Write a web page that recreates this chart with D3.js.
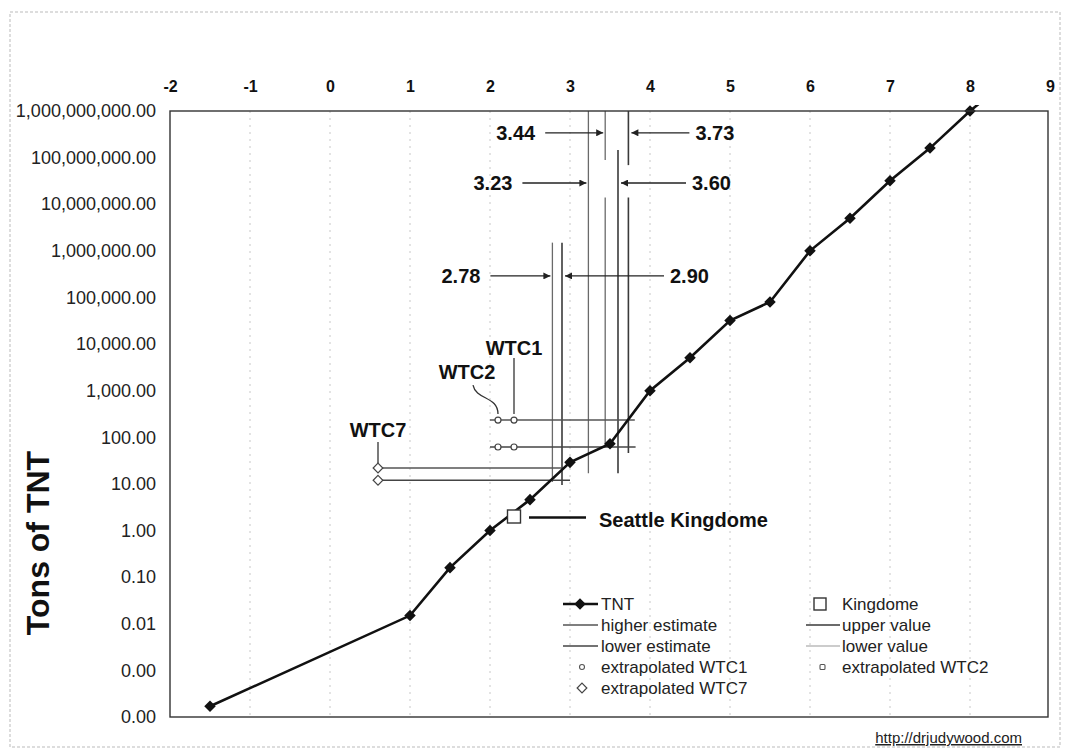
<!DOCTYPE html>
<html><head><meta charset="utf-8">
<script src="https://cdn.jsdelivr.net/npm/d3@7"></script>
<style>body{margin:0;background:#fff;} text{font-family:Arial,"Liberation Sans",sans-serif;}</style>
</head><body><svg id="c" width="1065" height="750"></svg>
<script>
// ---------- data ----------
const magnitudes = [-1.5, 1.0, 1.5, 2.0, 2.5, 3.0, 3.5, 4.0, 4.5, 5.0, 5.5, 6.0, 6.5, 7.0, 7.5, 8.0, 8.5];
const tntTons    = [0.00017, 0.015, 0.16, 1, 4.6, 29, 73, 1000, 5100, 32000, 80000, 1e6, 5e6, 32e6, 160e6, 1e9, 5e9];
const kingdomeMag = [2.3];
const kingdomeTons = [2.0];
const wtc1Mag = [2.3, 2.3];
const wtc1Tons = [234, 62];
const wtc2Mag = [2.1, 2.1];
const wtc2Tons = [234, 62];
const wtc7Mag = [0.6, 0.6];
const wtc7Tons = [22, 12];
const xTicks = [-2, -1, 0, 1, 2, 3, 4, 5, 6, 7, 8, 9];
const yTicks = [1e9, 1e8, 1e7, 1e6, 1e5, 1e4, 1e3, 100, 10, 1, 0.1, 0.01, 0.001, 0.0001];
// horizontal estimate lines: tons level, magnitude range
const higherEstimateTons = [234, 22];
const higherEstimateFrom = [2.0, 0.56];
const higherEstimateTo   = [3.81, 2.92];
const lowerEstimateTons = [62, 12];
const lowerEstimateFrom = [2.0, 0.56];
const lowerEstimateTo   = [3.82, 3.0];
// vertical value lines: magnitude, segments [topTons, bottomTons]
const upperValueMag = [2.90, 3.60, 3.73];
const upperValueSegs = [[[1.5e6, 9.5]], [[1.45e8, 17]], [[1e9, 6.9e7], [1.4e7, 46]]];
const lowerValueMag = [2.78, 3.23, 3.44];
const lowerValueSegs = [[[1.5e6, 11]], [[1e9, 17]], [[1e9, 8.9e7], [1.4e7, 62]]];
// arrow annotations
const annLabels = ["3.44", "3.73", "3.23", "3.60", "2.78", "2.90"];
const annMag    = [3.44, 3.73, 3.23, 3.60, 2.78, 2.90];
const annTons   = [3.4e8, 3.4e8, 2.85e7, 2.85e7, 2.9e5, 2.9e5];
const annSide   = ["left", "right", "left", "right", "left", "right"];
const annLen    = [58, 58, 64, 65, 60, 99];

// ---------- layout ----------
const svg = d3.select("#c");
const x = d3.scaleLinear().domain([-2, 9]).range([170, 1050]);
const y = d3.scaleLog().domain([0.0001, 1e9]).range([717, 111]);

// page border
svg.append("rect").attr("x", 10).attr("y", 12).attr("width", 1050).attr("height", 735)
  .attr("fill", "none").attr("stroke", "#bbb").attr("stroke-width", 1).attr("stroke-dasharray", "3,2");

// vertical dotted gridlines
svg.append("g").selectAll("line").data(xTicks.slice(1, -1)).join("line")
  .attr("x1", d => x(d)).attr("x2", d => x(d)).attr("y1", y(1e9)).attr("y2", y(0.0001))
  .attr("stroke", "#c8c8c8").attr("stroke-width", 1).attr("stroke-dasharray", "2,5");

// top axis
const gx = svg.append("g").attr("transform", `translate(0,${y(1e9) - 19})`)
  .call(d3.axisTop(x).tickValues(xTicks).tickFormat(d3.format("d")).tickSize(0).tickPadding(0));
gx.select(".domain").remove();
gx.selectAll("text").attr("font-size", 16).attr("font-weight", "bold").attr("fill", "#111")
  .attr("font-family", "Arial, 'Liberation Sans', sans-serif").text(d => d < 0 ? "-" + Math.abs(d) : d);

// left axis
const gy = svg.append("g").attr("transform", `translate(${x(-2)},0)`)
  .call(d3.axisLeft(y).tickValues(yTicks).tickFormat(d3.format(",.2f")).tickSize(0).tickPadding(14));
gy.select(".domain").remove();
gy.selectAll("text").attr("font-size", 18).attr("fill", "#222")
  .attr("font-family", "Arial, 'Liberation Sans', sans-serif");

// y title
svg.append("text").attr("transform", `translate(49,543) rotate(-90)`).attr("text-anchor", "middle")
  .attr("font-size", 32).attr("font-weight", "bold").attr("fill", "#111").text("Tons of TNT");

// clip + arrow marker
const defs = svg.append("defs");
defs.append("clipPath").attr("id", "clip").append("rect")
  .attr("x", x(-2)).attr("y", y(1e9) - 6).attr("width", x(9) - x(-2)).attr("height", y(0.0001) - y(1e9) + 6);
defs.append("marker").attr("id", "ah").attr("viewBox", "0 0 10 10").attr("refX", 10).attr("refY", 5)
  .attr("markerWidth", 9).attr("markerHeight", 7).attr("markerUnits", "userSpaceOnUse").attr("orient", "auto")
  .append("path").attr("d", "M0,0 L10,5 L0,10 z").attr("fill", "#222");

// vertical value lines
function vlines(mags, segs, color, width) {
  const items = [];
  mags.forEach((m, i) => segs[i].forEach(s => items.push({ m, t: s[0], b: s[1] })));
  svg.append("g").selectAll("line").data(items).join("line")
    .attr("x1", d => x(d.m)).attr("x2", d => x(d.m)).attr("y1", d => y(d.t)).attr("y2", d => y(d.b))
    .attr("stroke", color).attr("stroke-width", width);
}
vlines(lowerValueMag, lowerValueSegs, "#6a6a6a", 1.3);
vlines(upperValueMag, upperValueSegs, "#3a3a3a", 1.6);

// horizontal estimate lines
function hlines(tons, from, to, color, width) {
  svg.append("g").selectAll("line").data(tons.map((t, i) => ({ t, f: from[i], e: to[i] }))).join("line")
    .attr("x1", d => x(d.f)).attr("x2", d => x(d.e)).attr("y1", d => y(d.t)).attr("y2", d => y(d.t))
    .attr("stroke", color).attr("stroke-width", width);
}
hlines(higherEstimateTons, higherEstimateFrom, higherEstimateTo, "#555", 1.5);
hlines(lowerEstimateTons, lowerEstimateFrom, lowerEstimateTo, "#444", 1.5);

// TNT line
const tnt = magnitudes.map((m, i) => ({ m, t: tntTons[i] }));
const plotG = svg.append("g").attr("clip-path", "url(#clip)");
plotG.append("path").datum(tnt).attr("fill", "none").attr("stroke", "#111").attr("stroke-width", 2.6)
  .attr("d", d3.line().x(d => x(d.m)).y(d => y(d.t)));
const diamond = d3.symbol().type(d3.symbolDiamond2).size(85);
svg.append("g").selectAll("path").data(tnt.filter(d => d.t <= 1e9)).join("path")
  .attr("transform", d => `translate(${x(d.m)},${y(d.t)})`).attr("d", diamond).attr("fill", "#111");

// extrapolated markers
function circles(ms, ts) {
  svg.append("g").selectAll("circle").data(ms.map((m, i) => ({ m, t: ts[i] }))).join("circle")
    .attr("cx", d => x(d.m)).attr("cy", d => y(d.t)).attr("r", 3).attr("fill", "#fff")
    .attr("stroke", "#444").attr("stroke-width", 1.2);
}
circles(wtc1Mag, wtc1Tons);
circles(wtc2Mag, wtc2Tons);
const smallDiamond = d3.symbol().type(d3.symbolDiamond2).size(60);
svg.append("g").selectAll("path").data(wtc7Mag.map((m, i) => ({ m, t: wtc7Tons[i] }))).join("path")
  .attr("transform", d => `translate(${x(d.m)},${y(d.t)})`).attr("d", smallDiamond)
  .attr("fill", "#fff").attr("stroke", "#444").attr("stroke-width", 1.2);

// Kingdome
const kx = x(kingdomeMag[0]), ky = y(kingdomeTons[0]);
svg.append("rect").attr("x", kx - 6.5).attr("y", ky - 6.5).attr("width", 13).attr("height", 13)
  .attr("fill", "#fff").attr("stroke", "#333").attr("stroke-width", 1.4);
svg.append("line").attr("x1", kx + 15).attr("x2", kx + 72).attr("y1", ky + 1).attr("y2", ky + 1)
  .attr("stroke", "#111").attr("stroke-width", 2.5);
svg.append("text").attr("x", kx + 85).attr("y", ky + 10).attr("font-size", 20).attr("font-weight", "bold")
  .attr("fill", "#111").text("Seattle Kingdome");

// WTC callouts
const w1x = x(wtc1Mag[0]), w1y = y(wtc1Tons[0]);
svg.append("line").attr("x1", w1x).attr("x2", w1x).attr("y1", w1y - 62).attr("y2", w1y - 6)
  .attr("stroke", "#333").attr("stroke-width", 1.3);
svg.append("text").attr("x", w1x).attr("y", w1y - 65).attr("text-anchor", "middle").attr("font-size", 20)
  .attr("font-weight", "bold").attr("fill", "#111").text("WTC1");
const w2x = x(wtc2Mag[0]), w2y = y(wtc2Tons[0]);
svg.append("path").attr("d", `M${w2x - 25},${w2y - 35} C${w2x - 22},${w2y - 20} ${w2x},${w2y - 24} ${w2x},${w2y - 6}`)
  .attr("fill", "none").attr("stroke", "#333").attr("stroke-width", 1.3);
svg.append("text").attr("x", w2x - 31).attr("y", w2y - 41).attr("text-anchor", "middle").attr("font-size", 20)
  .attr("font-weight", "bold").attr("fill", "#111").text("WTC2");
const w7x = x(wtc7Mag[0]), w7y = y(wtc7Tons[0]);
svg.append("line").attr("x1", w7x).attr("x2", w7x).attr("y1", w7y - 26).attr("y2", w7y - 5)
  .attr("stroke", "#333").attr("stroke-width", 1.3);
svg.append("text").attr("x", w7x).attr("y", w7y - 31).attr("text-anchor", "middle").attr("font-size", 20)
  .attr("font-weight", "bold").attr("fill", "#111").text("WTC7");

// arrow annotations
annLabels.forEach((lab, i) => {
  const lx = x(annMag[i]), ly = y(annTons[i]);
  const left = annSide[i] === "left";
  const head = left ? lx - 2 : lx + 3;
  const tail = left ? head - annLen[i] : head + annLen[i];
  svg.append("line").attr("x1", tail).attr("x2", head).attr("y1", ly).attr("y2", ly)
    .attr("stroke", "#222").attr("stroke-width", 1.4).attr("marker-end", "url(#ah)");
  svg.append("text").attr("x", left ? tail - 10 : tail + 6).attr("y", ly + 7)
    .attr("text-anchor", left ? "end" : "start").attr("font-size", 20).attr("font-weight", "bold")
    .attr("fill", "#111").text(lab);
});

// plot border
svg.append("rect").attr("x", x(-2)).attr("y", y(1e9)).attr("width", x(9) - x(-2) - 2).attr("height", y(0.0001) - y(1e9))
  .attr("fill", "none").attr("stroke", "#333").attr("stroke-width", 1.4);

// legend
const legendLeft = ["TNT", "higher estimate", "lower estimate", "extrapolated WTC1", "extrapolated WTC7"];
const legendRight = ["Kingdome", "upper value", "lower value", "extrapolated WTC2"];
const lg = svg.append("g");
const rowY = i => 604 + i * 21;
legendLeft.forEach((t, i) => {
  lg.append("text").attr("x", 601).attr("y", rowY(i) + 6).attr("font-size", 17).attr("fill", "#222").text(t);
});
legendRight.forEach((t, i) => {
  lg.append("text").attr("x", 842).attr("y", rowY(i) + 6).attr("font-size", 17).attr("fill", "#222").text(t);
});
lg.append("line").attr("x1", 563).attr("x2", 598).attr("y1", rowY(0)).attr("y2", rowY(0)).attr("stroke", "#111").attr("stroke-width", 2.4);
lg.append("path").attr("transform", `translate(580,${rowY(0)})`).attr("d", diamond).attr("fill", "#111");
lg.append("line").attr("x1", 563).attr("x2", 598).attr("y1", rowY(1)).attr("y2", rowY(1)).attr("stroke", "#555").attr("stroke-width", 1.5);
lg.append("line").attr("x1", 563).attr("x2", 598).attr("y1", rowY(2)).attr("y2", rowY(2)).attr("stroke", "#444").attr("stroke-width", 1.5);
lg.append("circle").attr("cx", 582).attr("cy", rowY(3)).attr("r", 2.5).attr("fill", "#fff").attr("stroke", "#555").attr("stroke-width", 1.1);
lg.append("path").attr("transform", `translate(582,${rowY(4)})`).attr("d", smallDiamond).attr("fill", "#fff").attr("stroke", "#444").attr("stroke-width", 1.2);
lg.append("rect").attr("x", 814).attr("y", rowY(0) - 6).attr("width", 12).attr("height", 12).attr("fill", "#fff").attr("stroke", "#333").attr("stroke-width", 1.4);
lg.append("line").attr("x1", 806).attr("x2", 840).attr("y1", rowY(1)).attr("y2", rowY(1)).attr("stroke", "#3a3a3a").attr("stroke-width", 1.3);
lg.append("line").attr("x1", 806).attr("x2", 840).attr("y1", rowY(2)).attr("y2", rowY(2)).attr("stroke", "#999").attr("stroke-width", 1.2);
lg.append("rect").attr("x", 820).attr("y", rowY(3) - 2.5).attr("width", 5).attr("height", 5).attr("rx", 1).attr("fill", "#fff").attr("stroke", "#555").attr("stroke-width", 1.1);

// source url
svg.append("text").attr("x", 1022).attr("y", 743).attr("text-anchor", "end").attr("font-size", 15)
  .attr("fill", "#222").attr("text-decoration", "underline").text("http://drjudywood.com");
</script></body></html>
